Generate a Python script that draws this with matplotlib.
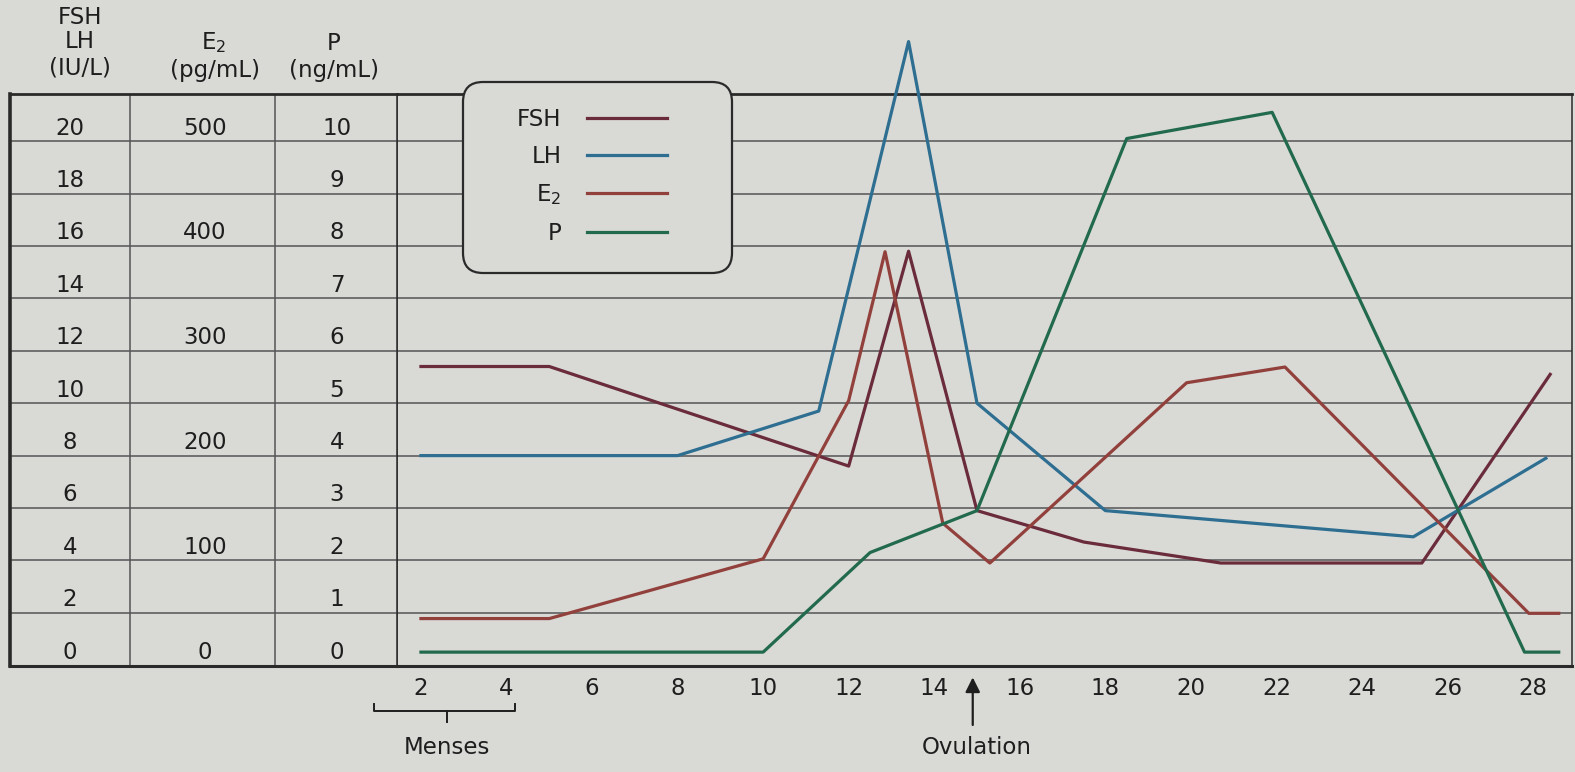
import numpy as np
import matplotlib.pyplot as plt
from matplotlib.lines import Line2D
from matplotlib.patches import FancyBboxPatch
from matplotlib.transforms import IdentityTransform

# ---- data (day of cycle, hormone level) ----
fsh_day = [2, 5, 12, 13.4, 15, 17.5, 20.7, 25.4, 28.4]
fsh_val = [10.9, 10.9, 7.1, 15.3, 5.4, 4.2, 3.4, 3.4, 10.6]        # IU/L
lh_day = [2, 8, 11.3, 13.4, 15, 18, 25.2, 28.3]
lh_val = [7.5, 7.5, 9.2, 23.3, 9.5, 5.4, 4.4, 7.4]                  # IU/L
e2_day = [2, 5, 10, 12, 12.85, 14.2, 15.3, 19.9, 22.2, 27.9, 28.6]
e2_val = [32, 32, 89, 240, 382, 123, 85, 257, 272, 37, 37]          # pg/mL
p_day = [2, 10, 12.5, 15, 18.5, 21.9, 27.8, 28.6]
p_val = [0, 0, 1.9, 2.7, 9.8, 10.3, 0, 0]                           # ng/mL

day_ticks = list(range(2, 29, 2))
iu_ticks = list(range(0, 21, 2))
e2_ticks = [0, 100, 200, 300, 400, 500]
p_ticks = list(range(0, 11))

# everything is drawn on the IU/L scale
E2_SCALE = 20 / 500
P_SCALE = 20 / 10

bg = "#d9d9d6"
ink = "#1e1e1e"
grid_c = "#555555"
colors = {"FSH": "#6a2b3b", "LH": "#2d6e91", "E2": "#92403b", "P": "#226a4e"}
fs = 16.5

W, H = 1575, 772
fig = plt.figure(figsize=(W / 100, H / 100), dpi=100, facecolor=bg)

y_lo, y_hi = -0.53, 21.3
bottom = 1 - 666 / H
height = (666 - 94) / H

ax = fig.add_axes([397 / W, bottom, (1572 - 397) / W, height], facecolor=bg)
tab = fig.add_axes([10 / W, bottom, 387 / W, height], facecolor=bg)

for a in (ax, tab):
    a.set_ylim(y_lo, y_hi)
    for lv in np.arange(1.5, 20, 2):
        a.axhline(lv, color=grid_c, lw=1.1, zorder=1)
    a.spines["top"].set_linewidth(2.0)
    a.spines["bottom"].set_linewidth(2.2)
    for s in a.spines.values():
        s.set_color("#2a2a2a")
    a.set_yticks([])

# ---- left table ----
tab.set_xlim(10, 397)
tab.set_xticks([])
tab.spines["left"].set_linewidth(2.6)
tab.spines["right"].set_linewidth(1.1)
tab.axvline(130, color=grid_c, lw=1.1)
tab.axvline(275, color=grid_c, lw=1.1)
for v in iu_ticks:
    tab.text(70, v, str(v), ha="center", va="center", fontsize=fs, color=ink)
for v in e2_ticks:
    tab.text(205, v * E2_SCALE, str(v), ha="center", va="center", fontsize=fs, color=ink)
for v in p_ticks:
    tab.text(337, v * P_SCALE, str(v), ha="center", va="center", fontsize=fs, color=ink)

hdr = dict(ha="center", va="center", fontsize=fs, color=ink)
fig.text(80 / W, 1 - 17 / H, "FSH", **hdr)
fig.text(80 / W, 1 - 42 / H, "LH", **hdr)
fig.text(80 / W, 1 - 68 / H, "(IU/L)", **hdr)
fig.text(214 / W, 1 - 43 / H, "E$_2$", **hdr)
fig.text(215 / W, 1 - 70 / H, "(pg/mL)", **hdr)
fig.text(334 / W, 1 - 44 / H, "P", **hdr)
fig.text(334 / W, 1 - 70 / H, "(ng/mL)", **hdr)

# ---- curves ----
ax.set_xlim(1.44, 28.91)
lw = 2.3
ax.plot(fsh_day, fsh_val, color=colors["FSH"], lw=lw, zorder=4, clip_on=False)
ax.plot(lh_day, lh_val, color=colors["LH"], lw=lw, zorder=4, clip_on=False)
ax.plot(e2_day, np.array(e2_val) * E2_SCALE, color=colors["E2"], lw=lw, zorder=4, clip_on=False)
ax.plot(p_day, np.array(p_val) * P_SCALE, color=colors["P"], lw=lw, zorder=4, clip_on=False)

ax.set_xticks(day_ticks)
ax.set_xticklabels([str(d) for d in day_ticks], fontsize=fs, color=ink)
ax.tick_params(axis="x", length=0, pad=8)
ax.spines["left"].set_linewidth(1.1)
ax.spines["right"].set_linewidth(1.1)

# ---- legend box ----
box = FancyBboxPatch((463, H - 273), 269, 191,
                     boxstyle="round,pad=0,rounding_size=20",
                     transform=IdentityTransform(), clip_on=False,
                     facecolor=bg, edgecolor="#2a2a2a", lw=1.6, zorder=3)
ax.add_patch(box)
handles = [Line2D([], [], color=colors[k], lw=lw) for k in ["FSH", "LH", "E2", "P"]]
ax.legend(handles, ["FSH", "LH", "E$_2$", "P"], loc="upper right",
          bbox_to_anchor=(667, H - 108), bbox_transform=IdentityTransform(),
          frameon=False, borderpad=0, borderaxespad=0, markerfirst=False,
          handlelength=3.5, handletextpad=1.1, labelspacing=0.62,
          fontsize=fs, labelcolor=ink).set_zorder(6)

# ---- menses bracket and ovulation arrow ----
xt = ax.get_xaxis_transform()
ax.plot([0.9, 0.9, 4.2, 4.2], [-0.066, -0.079, -0.079, -0.066], color=ink, lw=1.4,
        transform=xt, clip_on=False)
ax.plot([2.6, 2.6], [-0.079, -0.098], color=ink, lw=1.4, transform=xt, clip_on=False)
ax.text(2.6, -0.143, "Menses", transform=xt, ha="center", va="center",
        fontsize=fs, color=ink)

ax.annotate("", xy=(14.9, -0.015), xytext=(14.9, -0.108), xycoords=xt, textcoords=xt,
            arrowprops=dict(arrowstyle="-|>", color=ink, lw=1.6, mutation_scale=22),
            annotation_clip=False)
ax.text(15.0, -0.143, "Ovulation", transform=xt, ha="center", va="center",
        fontsize=fs, color=ink)

fig.savefig("out.png", dpi=100, facecolor=bg)
